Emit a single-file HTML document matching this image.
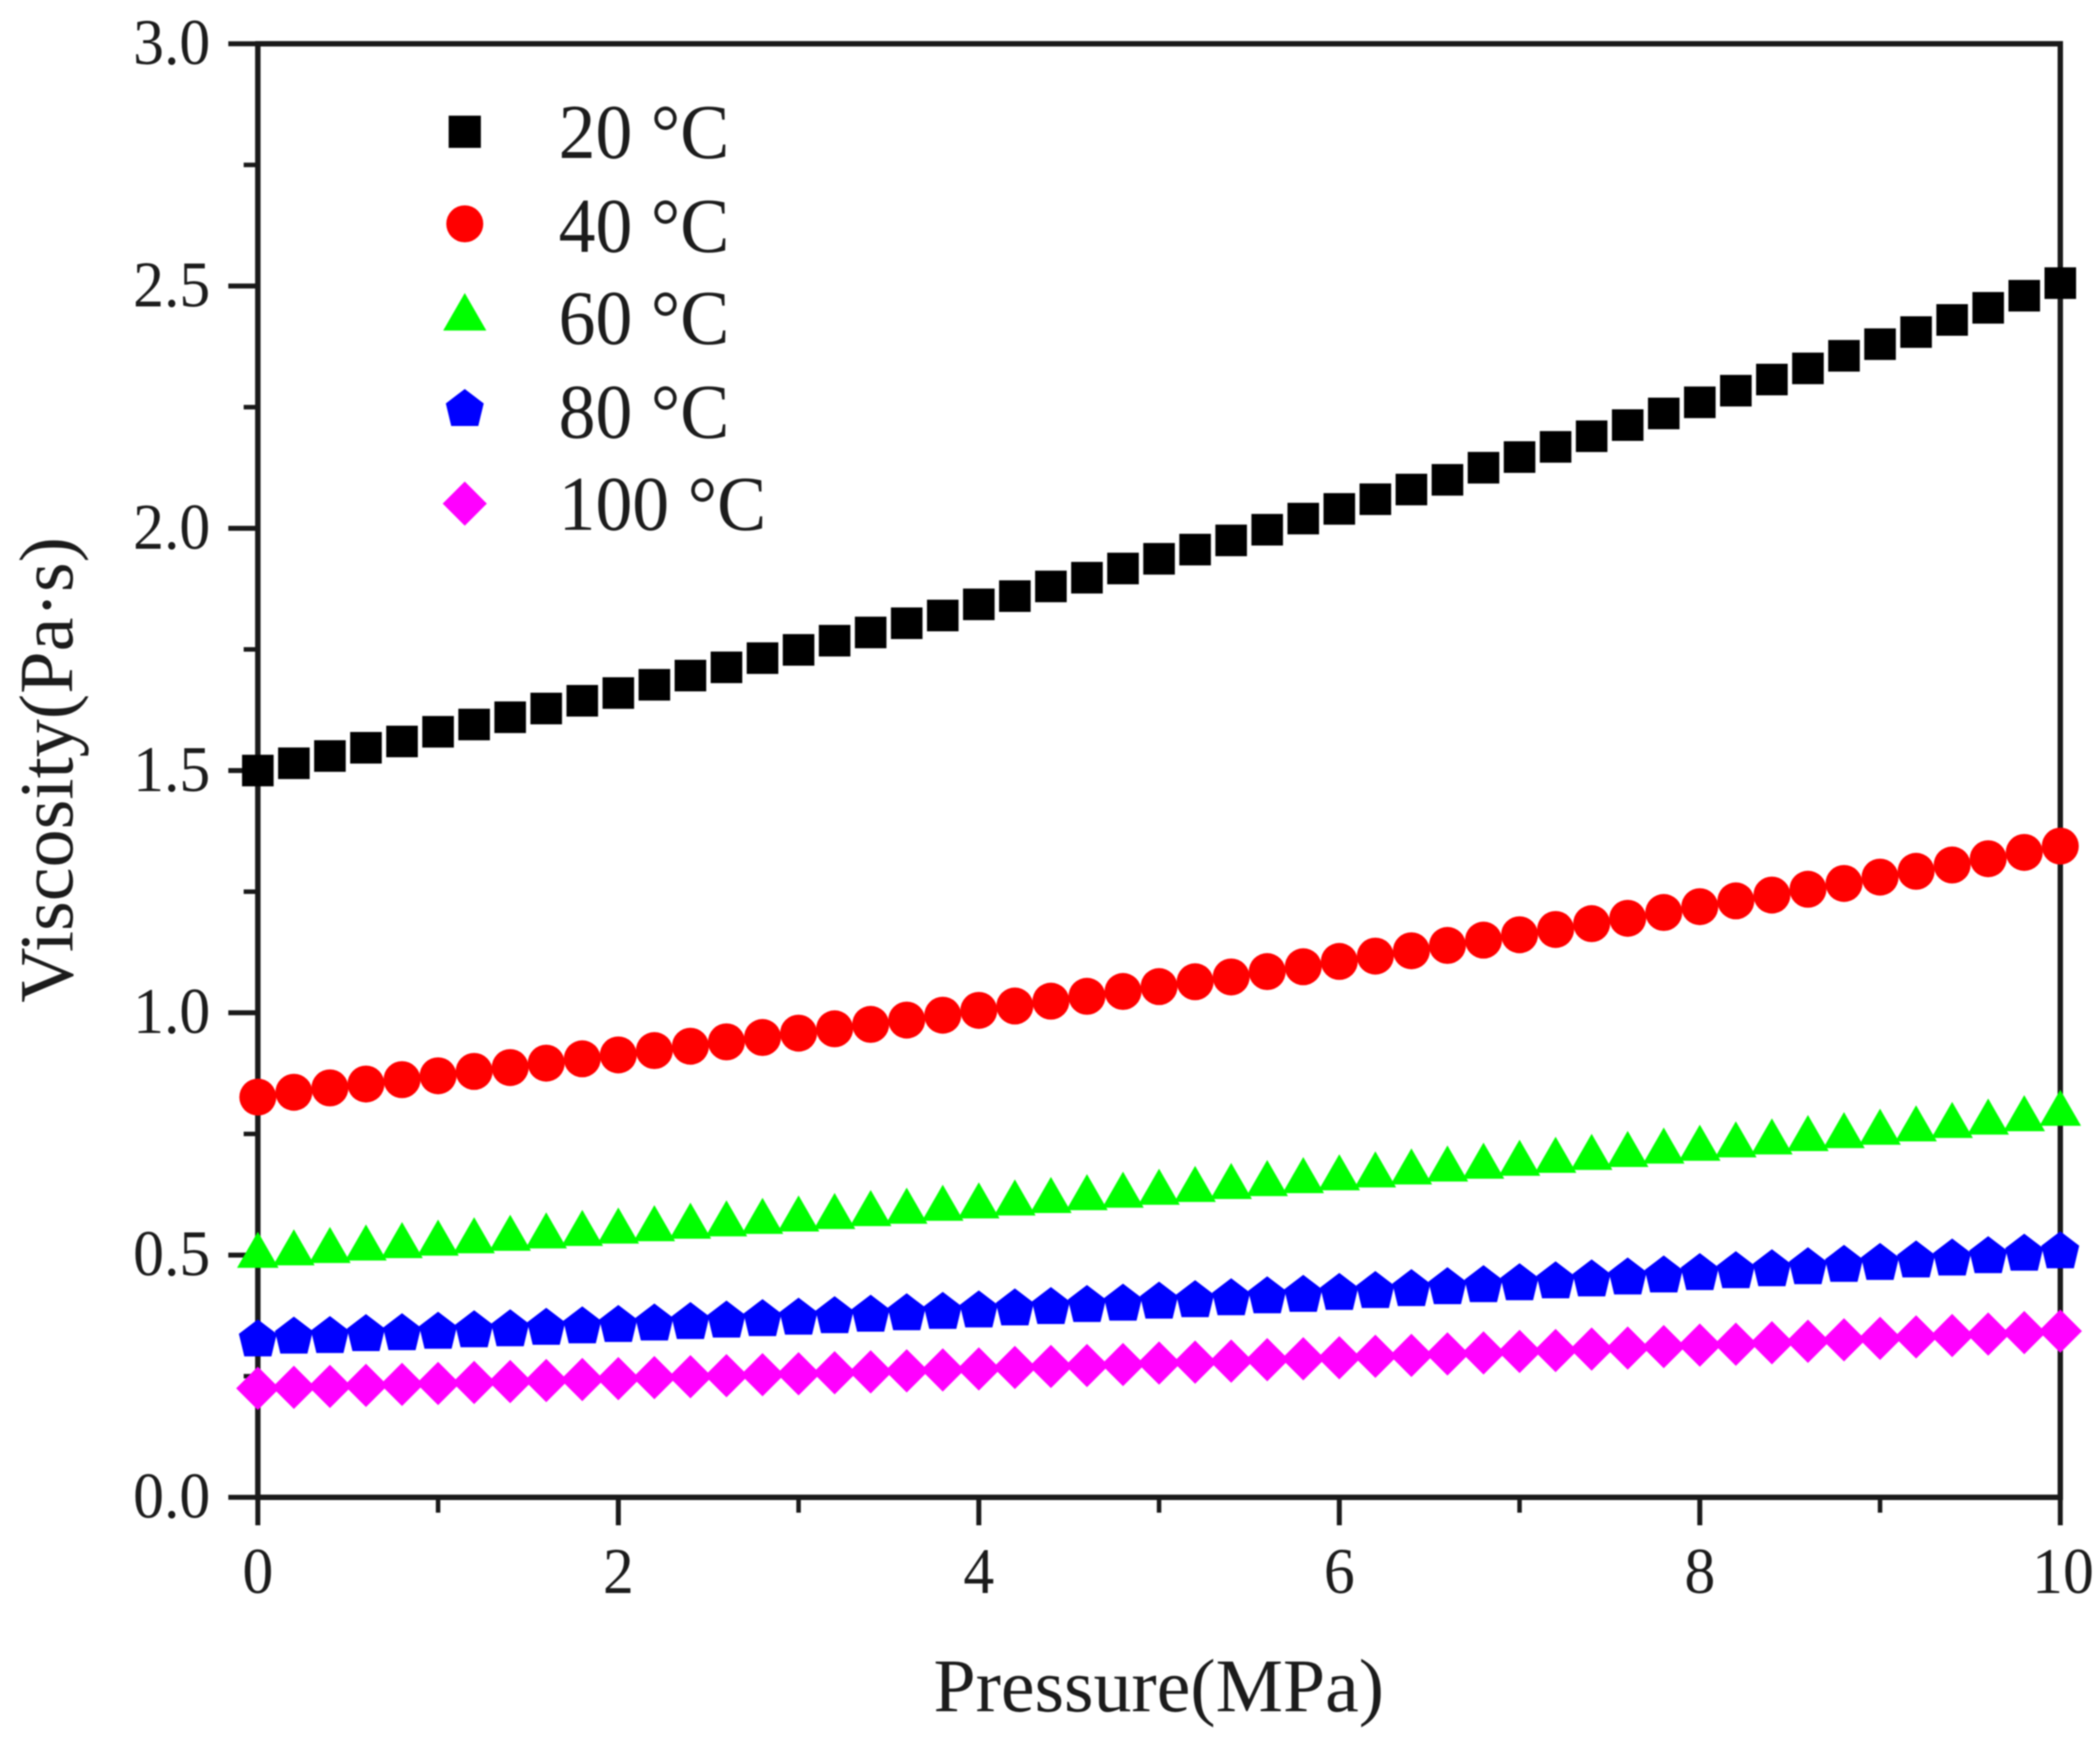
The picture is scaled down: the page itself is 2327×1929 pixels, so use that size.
<!DOCTYPE html>
<html lang="en">
<head>
<meta charset="utf-8">
<title>Viscosity vs Pressure</title>
<style>
html,body{margin:0;padding:0;background:#fff;width:2327px;height:1929px;overflow:hidden}
svg{display:block;filter:blur(0.9px)}
text{font-family:"Liberation Serif",serif;fill:#1c1c1c}
</style>
</head>
<body>
<svg id="chart" width="2327" height="1929" viewBox="0 0 2327 1929" xmlns="http://www.w3.org/2000/svg">
  <rect x="0" y="0" width="2327" height="1929" fill="#fff"/>
  <g id="axes"></g>
  <g id="series"></g>
  <text x="1284" y="1896" font-size="84" text-anchor="middle">Pressure(MPa)</text>
  <text transform="translate(80,853) rotate(-90)" font-size="84.5" text-anchor="middle">Viscosity(Pa·s)</text>
  <g id="legend"></g>
</svg>
<script>
const pressure = [0,0.2,0.4,0.6,0.8,1,1.2,1.4,1.6,1.8,2,2.2,2.4,2.6,2.8,3,3.2,3.4,3.6,3.8,4,4.2,4.4,4.6,4.8,5,5.2,5.4,5.6,5.8,6,6.2,6.4,6.6,6.8,7,7.2,7.4,7.6,7.8,8,8.2,8.4,8.6,8.8,9,9.2,9.4,9.6,9.8,10];
const visc20 = [1.50,1.515,1.53,1.547,1.56,1.58,1.595,1.61,1.628,1.644,1.66,1.677,1.696,1.713,1.732,1.749,1.768,1.785,1.804,1.82,1.843,1.86,1.88,1.898,1.917,1.937,1.956,1.975,1.997,2.02,2.04,2.06,2.08,2.10,2.125,2.147,2.168,2.19,2.213,2.237,2.26,2.284,2.307,2.33,2.356,2.38,2.405,2.43,2.455,2.48,2.506];
const visc40 = [0.826,0.836,0.845,0.853,0.862,0.870,0.879,0.887,0.896,0.905,0.913,0.922,0.931,0.94,0.949,0.958,0.967,0.976,0.985,0.995,1.005,1.014,1.024,1.034,1.044,1.054,1.064,1.074,1.085,1.095,1.106,1.117,1.128,1.139,1.15,1.161,1.172,1.184,1.195,1.207,1.219,1.231,1.243,1.255,1.267,1.28,1.292,1.305,1.318,1.331,1.344];
const visc60 = [0.51,0.515,0.52,0.525,0.53,0.535,0.54,0.545,0.55,0.555,0.56,0.565,0.57,0.575,0.58,0.585,0.59,0.596,0.601,0.607,0.612,0.618,0.623,0.629,0.634,0.64,0.646,0.652,0.658,0.664,0.67,0.676,0.682,0.688,0.694,0.70,0.706,0.712,0.718,0.725,0.731,0.738,0.744,0.751,0.757,0.764,0.771,0.778,0.785,0.792,0.803];
const visc80 = [0.328,0.334,0.335,0.339,0.341,0.344,0.347,0.349,0.352,0.355,0.358,0.361,0.364,0.367,0.37,0.373,0.376,0.379,0.382,0.385,0.388,0.392,0.395,0.399,0.402,0.406,0.409,0.413,0.417,0.42,0.424,0.428,0.432,0.436,0.44,0.444,0.448,0.452,0.456,0.46,0.465,0.469,0.473,0.477,0.482,0.486,0.491,0.495,0.5,0.505,0.51];
const visc100 = [0.225,0.227,0.229,0.231,0.233,0.235,0.237,0.239,0.241,0.243,0.245,0.247,0.249,0.251,0.253,0.255,0.257,0.259,0.261,0.263,0.265,0.268,0.27,0.272,0.274,0.277,0.279,0.281,0.284,0.286,0.288,0.291,0.293,0.296,0.298,0.301,0.303,0.306,0.308,0.311,0.314,0.316,0.319,0.322,0.325,0.328,0.331,0.334,0.337,0.34,0.343];
const xMajorTicks = [0,2,4,6,8,10];
const xMinorTicks = [1,3,5,7,9];
const yMajorTicks = [0,0.5,1,1.5,2,2.5,3];
const yMinorTicks = [0.25,0.75,1.25,1.75,2.25,2.75];
const legendLabels = ['20 °C','40 °C','60 °C','80 °C','100 °C'];

const NS = 'http://www.w3.org/2000/svg';
const X0 = 285.7, X1 = 2283, Y0 = 1659, Y1 = 48.5;
const xScale = v => X0 + (X1 - X0) * v / 10;
const yScale = v => Y0 + (Y1 - Y0) * v / 3;

function make(tag, attrs, parent) {
  const el = document.createElementNS(NS, tag);
  for (const k in attrs) el.setAttribute(k, attrs[k]);
  parent.appendChild(el);
  return el;
}

/* marker shapes, centred at (cx,cy), scaled by s */
function drawMarker(kind, cx, cy, s, color, parent) {
  if (kind === 'square') {
    const h = 17.5 * s;
    return make('rect', {x: cx - h, y: cy - h, width: 2 * h, height: 2 * h, fill: color}, parent);
  }
  if (kind === 'circle') {
    return make('circle', {cx: cx, cy: cy, r: 20.5 * s, fill: color}, parent);
  }
  let pts;
  if (kind === 'triangle') {
    pts = [[0, -20.5], [23, 19.5], [-23, 19.5]];
  } else if (kind === 'pentagon') {
    pts = [[0, -21], [21, -5], [15, 20], [-15, 20], [-21, -5]];
  } else {
    pts = [[0, -24], [24, 0], [0, 24], [-24, 0]];
  }
  const str = pts.map(p => (cx + p[0] * s) + ',' + (cy + p[1] * s)).join(' ');
  return make('polygon', {points: str, fill: color}, parent);
}

const axes = document.getElementById('axes');
const seriesRoot = document.getElementById('series');
const legendRoot = document.getElementById('legend');
const AXIS = '#1a1a1a';

/* frame */
const frame = make('rect', {x: X0, y: Y1, width: X1 - X0, height: Y0 - Y1, fill: 'none', stroke: AXIS, 'stroke-width': 6}, axes);



/* x ticks */
xMajorTicks.forEach(v => {
  const t = make('line', {x1: xScale(v), x2: xScale(v), y1: Y0, y2: 1690, stroke: AXIS, 'stroke-width': 5.5}, axes);
  
  
  const l = make('text', {transform: 'translate(' + (xScale(v) + (v === 10 ? 3 : 0)) + ',1765) scale(0.95,1)', 'font-size': 72, 'text-anchor': 'middle'}, axes);
  l.textContent = String(v);
  
  
});
xMinorTicks.forEach(v => {
  const t = make('line', {x1: xScale(v), x2: xScale(v), y1: Y0, y2: 1676, stroke: AXIS, 'stroke-width': 5}, axes);
  
  
});

/* y ticks */
yMajorTicks.forEach(v => {
  const t = make('line', {x1: 253, x2: X0, y1: yScale(v), y2: yScale(v), stroke: AXIS, 'stroke-width': 5.5}, axes);
  
  
  const l = make('text', {transform: 'translate(233,' + (yScale(v) + 22.5) + ') scale(0.95,1)', 'font-size': 72, 'text-anchor': 'end'}, axes);
  l.textContent = v.toFixed(1);
  
  
});
yMinorTicks.forEach(v => {
  const t = make('line', {x1: 270, x2: X0, y1: yScale(v), y2: yScale(v), stroke: AXIS, 'stroke-width': 5}, axes);
  
  
});

/* series */
const seriesValues = [visc20, visc40, visc60, visc80, visc100];
const seriesKinds = ['square', 'circle', 'triangle', 'pentagon', 'diamond'];
const seriesColors = ['#000000', '#ff0000', '#00ff00', '#0000ff', '#ff00ff'];
const seriesNames = ['series-20c', 'series-40c', 'series-60c', 'series-80c', 'series-100c'];

seriesValues.forEach((vals, i) => {
  const g = make('g', {}, seriesRoot);
  
  
  vals.forEach((v, j) => {
    const m = drawMarker(seriesKinds[i], xScale(pressure[j]), yScale(v), 1, seriesColors[i], g);
    
    
  });
});

/* legend */
const legendMarkerY = [146, 248, 346, 452, 558];
const legendTextY = [175, 279, 381, 485, 587];
const legendScale = [1.02, 1.0, 1.04, 1.0, 1.02];
legendLabels.forEach((label, i) => {
  const g = make('g', {}, legendRoot);
  
  
  const m = drawMarker(seriesKinds[i], 515, legendMarkerY[i], legendScale[i], seriesColors[i], g);
  
  
  const t = make('text', {transform: 'translate(619,' + legendTextY[i] + ') scale(0.95,1)', 'font-size': 86}, g);
  t.textContent = label;
  
  
});
</script>
</body>
</html>
